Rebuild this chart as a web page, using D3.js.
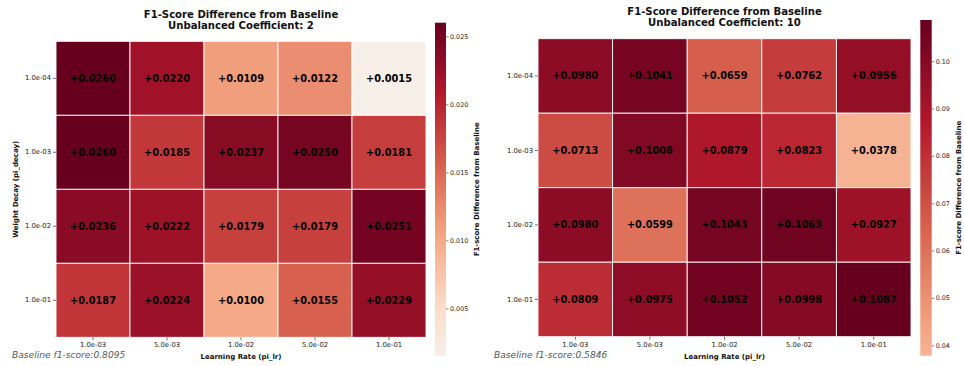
<!DOCTYPE html>
<html>
<head>
<meta charset="utf-8">
<script src="https://cdn.jsdelivr.net/npm/d3@7"></script>
<style>
  html, body { margin: 0; padding: 0; background: #fff; }
  svg { display: block; font-family: "DejaVu Sans", sans-serif; }
</style>
</head>
<body>
<svg id="chart" width="964" height="366"></svg>
<script>
// Hyper-parameter grid: learning rate (columns) x weight decay (rows)
const learningRates = ["1.0e-03", "5.0e-03", "1.0e-02", "5.0e-02", "1.0e-01"];
const weightDecays = ["1.0e-04", "1.0e-03", "1.0e-02", "1.0e-01"];

// F1-score gain over the baseline, rows follow weightDecays
const diffCoef2 = [
  [0.0260, 0.0220, 0.0109, 0.0122, 0.0015],
  [0.0260, 0.0185, 0.0237, 0.0250, 0.0181],
  [0.0236, 0.0222, 0.0179, 0.0179, 0.0251],
  [0.0187, 0.0224, 0.0100, 0.0155, 0.0229]
];
const diffCoef10 = [
  [0.0980, 0.1041, 0.0659, 0.0762, 0.0956],
  [0.0713, 0.1008, 0.0879, 0.0823, 0.0378],
  [0.0980, 0.0599, 0.1043, 0.1063, 0.0927],
  [0.0809, 0.0975, 0.1052, 0.0998, 0.1087]
];

const coefficients = [2, 10];
const baselineScores = [0.8095, 0.5846];
const colorbarTicks2 = [0.005, 0.010, 0.015, 0.020, 0.025];
const colorbarTicks10 = [0.04, 0.05, 0.06, 0.07, 0.08, 0.09, 0.10];

// Upper (red) half of the diverging RdBu_r colormap, centred on zero
const rdbuUpper = d3.scaleLinear()
  .domain([0.5, 0.6, 0.7, 0.8, 0.9, 1.0])
  .range(["#f7f7f7", "#fddbc7", "#f4a582", "#d6604d", "#b2182b", "#67001f"])
  .interpolate(d3.interpolateRgb)
  .clamp(true);

const svg = d3.select("#chart");
const defs = svg.append("defs");

const panels = [
  { data: diffCoef2, coef: coefficients[0], base: baselineScores[0], ticks: colorbarTicks2, tickFmt: d3.format(".3f"),
    box: { x0: 56, x1: 426, y0: 41.3, y1: 337.3 }, cb: { x: 435, w: 11, y0: 22.7, y1: 356 },
    titleY: 17.5, cbLabelX: 477, yLabel: true },
  { data: diffCoef10, coef: coefficients[1], base: baselineScores[1], ticks: colorbarTicks10, tickFmt: d3.format(".2f"),
    box: { x0: 538, x1: 911, y0: 38.7, y1: 336.7 }, cb: { x: 920.3, w: 11.4, y0: 20, y1: 355.7 },
    titleY: 14.5, cbLabelX: 959, yLabel: false }
];

panels.forEach((p, pi) => {
  const flat = p.data.flat();
  const vmin = d3.min(flat), vmax = d3.max(flat);
  const vrange = Math.max(Math.abs(vmin), Math.abs(vmax));
  const color = v => rdbuUpper(0.5 + v / (2 * vrange));

  const x = d3.scaleBand().domain(learningRates).range([p.box.x0, p.box.x1]);
  const y = d3.scaleBand().domain(weightDecays).range([p.box.y0, p.box.y1]);

  const g = svg.append("g");

  // Heatmap cells
  const cells = [];
  p.data.forEach((row, r) => row.forEach((v, c) => cells.push({ r, c, v })));

  g.selectAll("rect.cell").data(cells).join("rect")
    .attr("class", "cell")
    .attr("x", d => x(learningRates[d.c]))
    .attr("y", d => y(weightDecays[d.r]))
    .attr("width", x.bandwidth())
    .attr("height", y.bandwidth())
    .attr("fill", d => color(d.v))
    .attr("stroke", "#ffffff")
    .attr("stroke-width", 0.9);

  g.selectAll("text.annot").data(cells).join("text")
    .attr("class", "annot")
    .attr("x", d => x(learningRates[d.c]) + x.bandwidth() / 2)
    .attr("y", d => y(weightDecays[d.r]) + y.bandwidth() / 2)
    .attr("dy", "0.36em")
    .attr("text-anchor", "middle")
    .attr("font-size", 9.8)
    .attr("font-weight", "bold")
    .attr("fill", "#000")
    .text(d => "+" + d.v.toFixed(4));

  // Axes
  const xAxis = g.append("g")
    .attr("transform", `translate(0,${p.box.y1})`)
    .call(d3.axisBottom(x).tickSize(3).tickPadding(2));
  const yAxis = g.append("g")
    .attr("transform", `translate(${p.box.x0},0)`)
    .call(d3.axisLeft(y).tickSize(3).tickPadding(2));
  [xAxis, yAxis].forEach(a => {
    a.select(".domain").remove();
    a.selectAll(".tick line").attr("stroke", "#333").attr("stroke-width", 0.7);
    a.selectAll(".tick text").attr("font-size", 6.8).attr("fill", "#222")
      .attr("font-family", "DejaVu Sans, sans-serif");
  });

  const cx = (p.box.x0 + p.box.x1) / 2;
  const cy = (p.box.y0 + p.box.y1) / 2;

  // Title
  const title = g.append("text")
    .attr("x", cx).attr("y", p.titleY)
    .attr("text-anchor", "middle")
    .attr("font-size", 10.1).attr("font-weight", "bold").attr("fill", "#111");
  title.append("tspan").attr("x", cx).text("F1-Score Difference from Baseline");
  title.append("tspan").attr("x", cx).attr("dy", 11).text(`Unbalanced Coefficient: ${p.coef}`);

  // Axis titles
  g.append("text")
    .attr("x", cx).attr("y", 358.5)
    .attr("text-anchor", "middle")
    .attr("font-size", 7).attr("font-weight", "bold").attr("fill", "#111")
    .text("Learning Rate (pi_lr)");
  if (p.yLabel) {
    g.append("text")
      .attr("transform", `translate(17.5,${cy}) rotate(-90)`)
      .attr("text-anchor", "middle")
      .attr("font-size", 7).attr("font-weight", "bold").attr("fill", "#111")
      .text("Weight Decay (pi_decay)");
  }

  // Baseline note
  g.append("text")
    .attr("x", p.box.x0 - 44).attr("y", 357.5)
    .attr("font-size", 9.1).attr("font-style", "italic").attr("fill", "#555")
    .text(`Baseline f1-score:${p.base.toFixed(4)}`);

  // Colorbar
  const gradId = `cbgrad${pi}`;
  const grad = defs.append("linearGradient").attr("id", gradId)
    .attr("x1", 0).attr("y1", 1).attr("x2", 0).attr("y2", 0);
  d3.range(0, 1.0001, 0.02).forEach(t => {
    grad.append("stop").attr("offset", t).attr("stop-color", color(vmin + t * (vmax - vmin)));
  });
  g.append("rect")
    .attr("x", p.cb.x).attr("y", p.cb.y0)
    .attr("width", p.cb.w).attr("height", p.cb.y1 - p.cb.y0)
    .attr("fill", `url(#${gradId})`);

  const cbScale = d3.scaleLinear().domain([vmin, vmax]).range([p.cb.y1, p.cb.y0]);
  const cbAxis = g.append("g")
    .attr("transform", `translate(${p.cb.x + p.cb.w},0)`)
    .call(d3.axisRight(cbScale).tickValues(p.ticks).tickFormat(p.tickFmt).tickSize(2.5).tickPadding(1.5));
  cbAxis.select(".domain").remove();
  cbAxis.selectAll(".tick line").attr("stroke", "#333").attr("stroke-width", 0.6);
  cbAxis.selectAll(".tick text").attr("font-size", 6.4).attr("fill", "#222")
    .attr("font-family", "DejaVu Sans, sans-serif");

  g.append("text")
    .attr("transform", `translate(${p.cbLabelX},${(p.cb.y0 + p.cb.y1) / 2}) rotate(-90)`)
    .attr("text-anchor", "middle")
    .attr("dy", "0.35em")
    .attr("font-size", 7).attr("font-weight", "bold").attr("fill", "#111")
    .text("F1-score Difference from Baseline");
});
</script>
</body>
</html>
